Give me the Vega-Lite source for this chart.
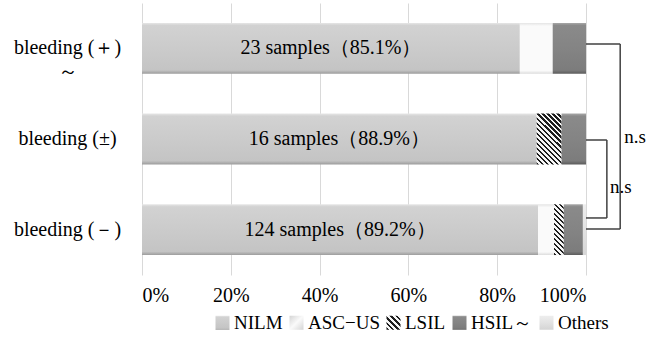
{
  "$schema": "https://vega.github.io/schema/vega-lite/v6.json",
  "width": 444,
  "height": 272,
  "autosize": {"type": "none"},
  "padding": {"left": 142, "top": 3, "right": 76, "bottom": 75},
  "background": "#ffffff",
  "config": {"view": {"stroke": null}, "font": "Liberation Serif"},
  "datasets": {
    "bars": [
      {"grp": "bleeding (＋)\n～", "cat": "NILM", "k": 0, "v": 85.1, "label": "23 samples（85.1%）"},
      {"grp": "bleeding (＋)\n～", "cat": "ASC−US", "k": 1, "v": 7.4},
      {"grp": "bleeding (＋)\n～", "cat": "HSIL～", "k": 3, "v": 7.5},
      {"grp": "bleeding (±)", "cat": "NILM", "k": 0, "v": 88.9, "label": "16 samples（88.9%）"},
      {"grp": "bleeding (±)", "cat": "LSIL", "k": 2, "v": 5.6},
      {"grp": "bleeding (±)", "cat": "HSIL～", "k": 3, "v": 5.5},
      {"grp": "bleeding (－)", "cat": "NILM", "k": 0, "v": 89.2, "label": "124 samples（89.2%）"},
      {"grp": "bleeding (－)", "cat": "ASC−US", "k": 1, "v": 3.6},
      {"grp": "bleeding (－)", "cat": "LSIL", "k": 2, "v": 2.2},
      {"grp": "bleeding (－)", "cat": "HSIL～", "k": 3, "v": 4.3},
      {"grp": "bleeding (－)", "cat": "Others", "k": 4, "v": 0.7}
    ],
    "brackets": [
      {"v": 100, "v2": 107.7, "yv": 0.452, "yv2": 0.452},
      {"v": 107.7, "v2": 107.7, "yv": 0.452, "yv2": 2.493},
      {"v": 100, "v2": 107.7, "yv": 2.493, "yv2": 2.493},
      {"v": 100, "v2": 104.7, "yv": 1.511, "yv2": 1.511},
      {"v": 104.7, "v2": 104.7, "yv": 1.511, "yv2": 2.371},
      {"v": 100, "v2": 104.7, "yv": 2.371, "yv2": 2.371}
    ],
    "notes": [
      {"v": 108.6, "yv": 1.478, "t": "n.s"},
      {"v": 105.4, "yv": 2.03, "t": "n.s"}
    ]
  },
  "resolve": {"scale": {"y": "independent"}},
  "layer": [
    {
      "data": {"name": "bars"},
      "mark": {"type": "bar"},
      "encoding": {
        "y": {
          "field": "grp", "type": "nominal", "sort": null,
          "scale": {"paddingInner": 0.44, "paddingOuter": 0.22},
          "axis": {
            "title": null, "ticks": false, "domain": false,
            "labelAlign": "center", "labelPadding": 75, "labelBaseline": "middle",
            "labelFontSize": 20, "labelColor": "#000000", "labelLimit": 0,
            "labelLineHeight": 24, "labelFont": "Liberation Serif",
            "labelExpr": "split(datum.label, '\\n')"
          }
        },
        "x": {
          "field": "v", "type": "quantitative", "stack": "zero",
          "scale": {"domain": [0, 100], "nice": false},
          "axis": {
            "title": null, "values": [0, 20, 40, 60, 80, 100],
            "labelExpr": "datum.value + '%'", "grid": true, "gridColor": "#d9d9d9",
            "domain": false, "ticks": false, "labelPadding": 10,
            "labelFontSize": 20, "labelColor": "#000000", "labelFont": "Liberation Serif"
          }
        },
        "order": {"field": "k", "type": "quantitative"},
        "color": {
          "condition": [
            {"test": "datum.cat === 'LSIL' && datum.grp === 'bleeding (±)'", "value":
              {"gradient": "linear", "x1": 0, "y1": 1, "x2": 0.587, "y2": -0.203, "stops": [
                {"offset": 0, "color": "#1e1e1e"}, {"offset": 0.03, "color": "#1e1e1e"}, {"offset": 0.03, "color": "#f6f6f6"}, {"offset": 0.0667, "color": "#f6f6f6"},
                {"offset": 0.0667, "color": "#1e1e1e"}, {"offset": 0.0967, "color": "#1e1e1e"}, {"offset": 0.0967, "color": "#f6f6f6"}, {"offset": 0.1333, "color": "#f6f6f6"},
                {"offset": 0.1333, "color": "#1e1e1e"}, {"offset": 0.1633, "color": "#1e1e1e"}, {"offset": 0.1633, "color": "#f6f6f6"}, {"offset": 0.2, "color": "#f6f6f6"},
                {"offset": 0.2, "color": "#1e1e1e"}, {"offset": 0.23, "color": "#1e1e1e"}, {"offset": 0.23, "color": "#f6f6f6"}, {"offset": 0.2667, "color": "#f6f6f6"},
                {"offset": 0.2667, "color": "#1e1e1e"}, {"offset": 0.2967, "color": "#1e1e1e"}, {"offset": 0.2967, "color": "#f6f6f6"}, {"offset": 0.3333, "color": "#f6f6f6"},
                {"offset": 0.3333, "color": "#1e1e1e"}, {"offset": 0.3633, "color": "#1e1e1e"}, {"offset": 0.3633, "color": "#f6f6f6"}, {"offset": 0.4, "color": "#f6f6f6"},
                {"offset": 0.4, "color": "#1e1e1e"}, {"offset": 0.43, "color": "#1e1e1e"}, {"offset": 0.43, "color": "#f6f6f6"}, {"offset": 0.4667, "color": "#f6f6f6"},
                {"offset": 0.4667, "color": "#1e1e1e"}, {"offset": 0.4967, "color": "#1e1e1e"}, {"offset": 0.4967, "color": "#f6f6f6"}, {"offset": 0.5333, "color": "#f6f6f6"},
                {"offset": 0.5333, "color": "#1e1e1e"}, {"offset": 0.5633, "color": "#1e1e1e"}, {"offset": 0.5633, "color": "#f6f6f6"}, {"offset": 0.6, "color": "#f6f6f6"},
                {"offset": 0.6, "color": "#1e1e1e"}, {"offset": 0.63, "color": "#1e1e1e"}, {"offset": 0.63, "color": "#f6f6f6"}, {"offset": 0.6667, "color": "#f6f6f6"},
                {"offset": 0.6667, "color": "#1e1e1e"}, {"offset": 0.6967, "color": "#1e1e1e"}, {"offset": 0.6967, "color": "#f6f6f6"}, {"offset": 0.7333, "color": "#f6f6f6"},
                {"offset": 0.7333, "color": "#1e1e1e"}, {"offset": 0.7633, "color": "#1e1e1e"}, {"offset": 0.7633, "color": "#f6f6f6"}, {"offset": 0.8, "color": "#f6f6f6"},
                {"offset": 0.8, "color": "#1e1e1e"}, {"offset": 0.83, "color": "#1e1e1e"}, {"offset": 0.83, "color": "#f6f6f6"}, {"offset": 0.8667, "color": "#f6f6f6"},
                {"offset": 0.8667, "color": "#1e1e1e"}, {"offset": 0.8967, "color": "#1e1e1e"}, {"offset": 0.8967, "color": "#f6f6f6"}, {"offset": 0.9333, "color": "#f6f6f6"},
                {"offset": 0.9333, "color": "#1e1e1e"}, {"offset": 0.9633, "color": "#1e1e1e"}, {"offset": 0.9633, "color": "#f6f6f6"}, {"offset": 1, "color": "#f6f6f6"}]}},
            {"test": "datum.cat === 'LSIL'", "value":
              {"gradient": "linear", "x1": 0, "y1": 1, "x2": 0.221, "y2": -0.15, "stops": [
                {"offset": 0, "color": "#1e1e1e"}, {"offset": 0.0375, "color": "#1e1e1e"}, {"offset": 0.0375, "color": "#f6f6f6"}, {"offset": 0.0833, "color": "#f6f6f6"},
                {"offset": 0.0833, "color": "#1e1e1e"}, {"offset": 0.1208, "color": "#1e1e1e"}, {"offset": 0.1208, "color": "#f6f6f6"}, {"offset": 0.1667, "color": "#f6f6f6"},
                {"offset": 0.1667, "color": "#1e1e1e"}, {"offset": 0.2042, "color": "#1e1e1e"}, {"offset": 0.2042, "color": "#f6f6f6"}, {"offset": 0.25, "color": "#f6f6f6"},
                {"offset": 0.25, "color": "#1e1e1e"}, {"offset": 0.2875, "color": "#1e1e1e"}, {"offset": 0.2875, "color": "#f6f6f6"}, {"offset": 0.3333, "color": "#f6f6f6"},
                {"offset": 0.3333, "color": "#1e1e1e"}, {"offset": 0.3708, "color": "#1e1e1e"}, {"offset": 0.3708, "color": "#f6f6f6"}, {"offset": 0.4167, "color": "#f6f6f6"},
                {"offset": 0.4167, "color": "#1e1e1e"}, {"offset": 0.4542, "color": "#1e1e1e"}, {"offset": 0.4542, "color": "#f6f6f6"}, {"offset": 0.5, "color": "#f6f6f6"},
                {"offset": 0.5, "color": "#1e1e1e"}, {"offset": 0.5375, "color": "#1e1e1e"}, {"offset": 0.5375, "color": "#f6f6f6"}, {"offset": 0.5833, "color": "#f6f6f6"},
                {"offset": 0.5833, "color": "#1e1e1e"}, {"offset": 0.6208, "color": "#1e1e1e"}, {"offset": 0.6208, "color": "#f6f6f6"}, {"offset": 0.6667, "color": "#f6f6f6"},
                {"offset": 0.6667, "color": "#1e1e1e"}, {"offset": 0.7042, "color": "#1e1e1e"}, {"offset": 0.7042, "color": "#f6f6f6"}, {"offset": 0.75, "color": "#f6f6f6"},
                {"offset": 0.75, "color": "#1e1e1e"}, {"offset": 0.7875, "color": "#1e1e1e"}, {"offset": 0.7875, "color": "#f6f6f6"}, {"offset": 0.8333, "color": "#f6f6f6"},
                {"offset": 0.8333, "color": "#1e1e1e"}, {"offset": 0.8708, "color": "#1e1e1e"}, {"offset": 0.8708, "color": "#f6f6f6"}, {"offset": 0.9167, "color": "#f6f6f6"},
                {"offset": 0.9167, "color": "#1e1e1e"}, {"offset": 0.9542, "color": "#1e1e1e"}, {"offset": 0.9542, "color": "#f6f6f6"}, {"offset": 1, "color": "#f6f6f6"}]}},
            {"test": "datum.cat === 'NILM'", "value":
              {"gradient": "linear", "x1": 0, "y1": 0, "x2": 0, "y2": 1, "stops": [
                {"offset": 0, "color": "#e6e6e6"}, {"offset": 0.05, "color": "#d2d2d2"},
                {"offset": 0.5, "color": "#cbcbcb"}, {"offset": 0.93, "color": "#c4c4c4"},
                {"offset": 1, "color": "#9c9c9c"}]}},
            {"test": "datum.cat === 'ASC−US'", "value":
              {"gradient": "linear", "x1": 0, "y1": 0, "x2": 0, "y2": 1, "stops": [
                {"offset": 0, "color": "#e4e4e4"}, {"offset": 0.06, "color": "#fafafa"},
                {"offset": 0.94, "color": "#fafafa"}, {"offset": 1, "color": "#dcdcdc"}]}},
            {"test": "datum.cat === 'HSIL～'", "value":
              {"gradient": "linear", "x1": 0, "y1": 0, "x2": 0, "y2": 1, "stops": [
                {"offset": 0, "color": "#a8a8a8"}, {"offset": 0.05, "color": "#8a8a8a"},
                {"offset": 0.5, "color": "#848484"}, {"offset": 0.93, "color": "#7c7c7c"},
                {"offset": 1, "color": "#5c5c5c"}]}},
            {"test": "datum.cat === 'Others'", "value":
              {"gradient": "linear", "x1": 0, "y1": 0, "x2": 0, "y2": 1, "stops": [
                {"offset": 0, "color": "#eeeeee"}, {"offset": 0.5, "color": "#e2e2e2"},
                {"offset": 1, "color": "#d6d6d6"}]}}
          ],
          "field": "cat", "type": "nominal",
          "scale": {
            "domain": ["NILM", "ASC−US", "LSIL", "HSIL～", "Others"],
            "range": [
              {"expr": "{gradient: 'linear', x1: 0, y1: 0, x2: 0, y2: 1, stops: [{offset: 0, color: '#e6e6e6'}, {offset: 0.1, color: '#d2d2d2'}, {offset: 0.5, color: '#cbcbcb'}, {offset: 0.9, color: '#c4c4c4'}, {offset: 1, color: '#9c9c9c'}]}"},
              {"expr": "{gradient: 'linear', x1: 0, y1: 0, x2: 1, y2: 1, stops: [{offset: 0, color: '#d4d4d4'}, {offset: 0.5, color: '#fafafa'}, {offset: 1, color: '#d4d4d4'}]}"},
              {"expr": "{gradient: 'linear', x1: 0, y1: 1, x2: 1, y2: 0, stops: [{offset: 0, color: '#1e1e1e'}, {offset: 0.09, color: '#1e1e1e'}, {offset: 0.09, color: '#f6f6f6'}, {offset: 0.2, color: '#f6f6f6'}, {offset: 0.2, color: '#1e1e1e'}, {offset: 0.29, color: '#1e1e1e'}, {offset: 0.29, color: '#f6f6f6'}, {offset: 0.4, color: '#f6f6f6'}, {offset: 0.4, color: '#1e1e1e'}, {offset: 0.49, color: '#1e1e1e'}, {offset: 0.49, color: '#f6f6f6'}, {offset: 0.6, color: '#f6f6f6'}, {offset: 0.6, color: '#1e1e1e'}, {offset: 0.69, color: '#1e1e1e'}, {offset: 0.69, color: '#f6f6f6'}, {offset: 0.8, color: '#f6f6f6'}, {offset: 0.8, color: '#1e1e1e'}, {offset: 0.89, color: '#1e1e1e'}, {offset: 0.89, color: '#f6f6f6'}, {offset: 1, color: '#f6f6f6'}]}"},
              {"expr": "{gradient: 'linear', x1: 0, y1: 0, x2: 0, y2: 1, stops: [{offset: 0, color: '#a8a8a8'}, {offset: 0.1, color: '#8a8a8a'}, {offset: 0.5, color: '#848484'}, {offset: 0.9, color: '#7c7c7c'}, {offset: 1, color: '#5c5c5c'}]}"},
              {"expr": "{gradient: 'linear', x1: 0, y1: 0, x2: 0, y2: 1, stops: [{offset: 0, color: '#eeeeee'}, {offset: 0.5, color: '#e2e2e2'}, {offset: 1, color: '#d4d4d4'}]}"}
            ]
          },
          "legend": {
            "title": null, "orient": "none", "direction": "horizontal",
            "legendX": 71, "legendY": 310,
            "symbolType": "square", "symbolSize": 196, "symbolStrokeWidth": 0,
            "labelFontSize": 19, "labelFont": "Liberation Serif", "labelColor": "#000000",
            "labelOffset": 2, "columnPadding": 4, "labelLimit": 0
          }
        }
      }
    },
    {
      "data": {"name": "bars"},
      "transform": [{"filter": "datum.cat === 'NILM'"}],
      "mark": {"type": "text", "fontSize": 20, "font": "Liberation Serif", "color": "#000000", "align": "center", "baseline": "middle"},
      "encoding": {
        "y": {"field": "grp", "type": "nominal", "sort": null, "scale": {"paddingInner": 0.44, "paddingOuter": 0.22}, "axis": null},
        "x": {"field": "v", "type": "quantitative", "stack": "zero", "bandPosition": 0.5, "scale": {"domain": [0, 100], "nice": false}},
        "text": {"field": "label"}
      }
    },
    {
      "data": {"name": "brackets"},
      "mark": {"type": "rule", "color": "#404040", "strokeWidth": 1.5},
      "encoding": {
        "x": {"field": "v", "type": "quantitative", "scale": {"domain": [0, 100], "nice": false}},
        "x2": {"field": "v2"},
        "y": {"field": "yv", "type": "quantitative", "scale": {"domain": [0, 3], "reverse": true, "nice": false, "zero": false}, "axis": null},
        "y2": {"field": "yv2"}
      }
    },
    {
      "data": {"name": "notes"},
      "mark": {"type": "text", "fontSize": 19, "font": "Liberation Serif", "color": "#000000", "align": "left", "baseline": "middle"},
      "encoding": {
        "x": {"field": "v", "type": "quantitative", "scale": {"domain": [0, 100], "nice": false}},
        "y": {"field": "yv", "type": "quantitative", "scale": {"domain": [0, 3], "reverse": true, "nice": false, "zero": false}, "axis": null},
        "text": {"field": "t"}
      }
    }
  ]
}
